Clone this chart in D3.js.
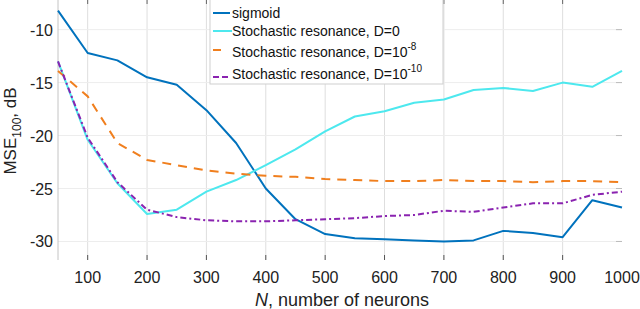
<!DOCTYPE html>
<html>
<head>
<meta charset="utf-8">
<script src="https://cdn.jsdelivr.net/npm/d3@7"></script>
<style>
  body { margin: 0; background: #fff; }
  svg { font-family: "Liberation Sans", Arial, sans-serif; }
</style>
</head>
<body>
<svg id="chart" width="640" height="309"></svg>
<script>
// neuron counts
var nValues = [50, 100, 150, 200, 250, 300, 350, 400, 450, 500,
               550, 600, 650, 700, 750, 800, 850, 900, 950, 1000];

// MSE_100 in dB
var sigmoid = [-8.2, -12.2, -12.9, -14.5, -15.2, -17.6, -20.7, -25.0, -27.9, -29.3,
               -29.7, -29.8, -29.9, -30.0, -29.9, -29.0, -29.2, -29.6, -26.1, -26.8];
var srD0 = [-13.0, -20.4, -24.5, -27.4, -27.0, -25.3, -24.2, -22.8, -21.3, -19.6,
            -18.2, -17.7, -16.9, -16.6, -15.7, -15.5, -15.8, -15.0, -15.4, -13.9];
var srD8 = [-13.9, -16.3, -20.7, -22.3, -22.8, -23.3, -23.6, -23.8, -23.9, -24.1,
            -24.2, -24.3, -24.3, -24.2, -24.3, -24.3, -24.4, -24.3, -24.3, -24.4];
var srD10 = [-13.0, -20.2, -24.4, -27.0, -27.7, -28.0, -28.1, -28.1, -28.0, -27.9,
             -27.8, -27.6, -27.5, -27.1, -27.2, -26.8, -26.4, -26.4, -25.6, -25.3];

var xTicks = [100, 200, 300, 400, 500, 600, 700, 800, 900, 1000];
var yTicks = [-10, -15, -20, -25, -30];

var series = [
  { name: "sigmoid", sup: null, values: sigmoid, color: "#0072bd", dash: null },
  { name: "Stochastic resonance, D=0", sup: null, values: srD0, color: "#4de8ee", dash: null },
  { name: "Stochastic resonance, D=10", sup: "-8", values: srD8, color: "#f07f1e", dash: "9,7" },
  { name: "Stochastic resonance, D=10", sup: "-10", values: srD10, color: "#8a23b0", dash: "6,3,2,3" }
];

var pLeft = 58, pRight = 622, pTop = 0, pBottom = 260;

var svg = d3.select("#chart");

var x = d3.scaleLinear().domain([50, 1000]).range([pLeft, pRight]);
var y = d3.scaleLinear().domain([-31.75, -7.2]).range([pBottom, pTop]);

// grid
svg.append("g").selectAll("line")
  .data(xTicks.slice(0, -1))
  .enter().append("line")
  .attr("x1", function(d) { return x(d); })
  .attr("x2", function(d) { return x(d); })
  .attr("y1", pTop).attr("y2", pBottom)
  .attr("stroke", "#dedede").attr("stroke-width", 1);

svg.append("g").selectAll("line")
  .data(yTicks)
  .enter().append("line")
  .attr("x1", pLeft).attr("x2", pRight)
  .attr("y1", function(d) { return y(d); })
  .attr("y2", function(d) { return y(d); })
  .attr("stroke", "#ededed").attr("stroke-width", 1);

// small tick marks on the box
svg.append("g").selectAll("line")
  .data(xTicks.slice(0, -1))
  .enter().append("line")
  .attr("x1", function(d) { return x(d); })
  .attr("x2", function(d) { return x(d); })
  .attr("y1", pBottom - 5).attr("y2", pBottom)
  .attr("stroke", "#555");
svg.append("g").selectAll("line")
  .data(xTicks.slice(0, -1))
  .enter().append("line")
  .attr("x1", function(d) { return x(d); })
  .attr("x2", function(d) { return x(d); })
  .attr("y1", pTop).attr("y2", pTop + 4)
  .attr("stroke", "#666");
svg.append("g").selectAll("line")
  .data(yTicks)
  .enter().append("line")
  .attr("x1", pRight - 6).attr("x2", pRight)
  .attr("y1", function(d) { return y(d); })
  .attr("y2", function(d) { return y(d); })
  .attr("stroke", "#bbb");

// left axis line
svg.append("line")
  .attr("x1", pLeft).attr("x2", pLeft)
  .attr("y1", pTop).attr("y2", pBottom)
  .attr("stroke", "#c4c4c4");

// tick labels
svg.append("g").selectAll("text")
  .data(xTicks)
  .enter().append("text")
  .attr("x", function(d) { return x(d); })
  .attr("y", 283)
  .attr("text-anchor", "middle")
  .attr("font-size", "16px")
  .attr("fill", "#222")
  .text(function(d) { return d; });

svg.append("g").selectAll("text")
  .data(yTicks)
  .enter().append("text")
  .attr("x", 53)
  .attr("y", function(d) { return y(d) + 6; })
  .attr("text-anchor", "end")
  .attr("font-size", "16px")
  .attr("fill", "#222")
  .text(function(d) { return d; });

// axis labels
var xl = svg.append("text")
  .attr("x", 342).attr("y", 306)
  .attr("text-anchor", "middle")
  .attr("font-size", "18px")
  .attr("fill", "#222");
xl.append("tspan").attr("font-style", "italic").text("N");
xl.append("tspan").text(", number of neurons");

var yl = svg.append("text")
  .attr("transform", "translate(16,131) rotate(-90)")
  .attr("text-anchor", "middle")
  .attr("font-size", "17px")
  .attr("fill", "#222");
yl.append("tspan").text("MSE");
yl.append("tspan").attr("font-size", "12px").attr("dy", 5).text("100");
yl.append("tspan").attr("dy", -5).text(", dB");

// lines
var line = d3.line()
  .x(function(d, i) { return x(nValues[i]); })
  .y(function(d) { return y(d); });

svg.append("g").selectAll("path")
  .data(series)
  .enter().append("path")
  .attr("d", function(s) { return line(s.values); })
  .attr("fill", "none")
  .attr("stroke", function(s) { return s.color; })
  .attr("stroke-width", 2)
  .attr("stroke-dasharray", function(s) { return s.dash; })
  .attr("stroke-linejoin", "round");

// legend
var lg = svg.append("g");
lg.append("rect")
  .attr("x", 210).attr("y", -2)
  .attr("width", 233).attr("height", 86)
  .attr("fill", "#fff")
  .attr("stroke", "#cfcfcf");

var rowY = [13, 31, 52, 74];
var lineY = [13, 31, 50, 77];
var lineEnd = [230, 232, 221, 230];

series.forEach(function(s, i) {
  lg.append("line")
    .attr("x1", 213).attr("x2", lineEnd[i])
    .attr("y1", lineY[i]).attr("y2", lineY[i])
    .attr("stroke", s.color)
    .attr("stroke-width", 2)
    .attr("stroke-dasharray", s.dash ? (i === 3 ? "6,3" : "9,6") : null);
  var t = lg.append("text")
    .attr("x", 232).attr("y", rowY[i] + 5)
    .attr("font-size", "14px")
    .attr("fill", "#111");
  t.append("tspan").text(s.name);
  if (s.sup) {
    t.append("tspan").attr("font-size", "10px").attr("dy", -7).text(s.sup);
  }
});
</script>
</body>
</html>
